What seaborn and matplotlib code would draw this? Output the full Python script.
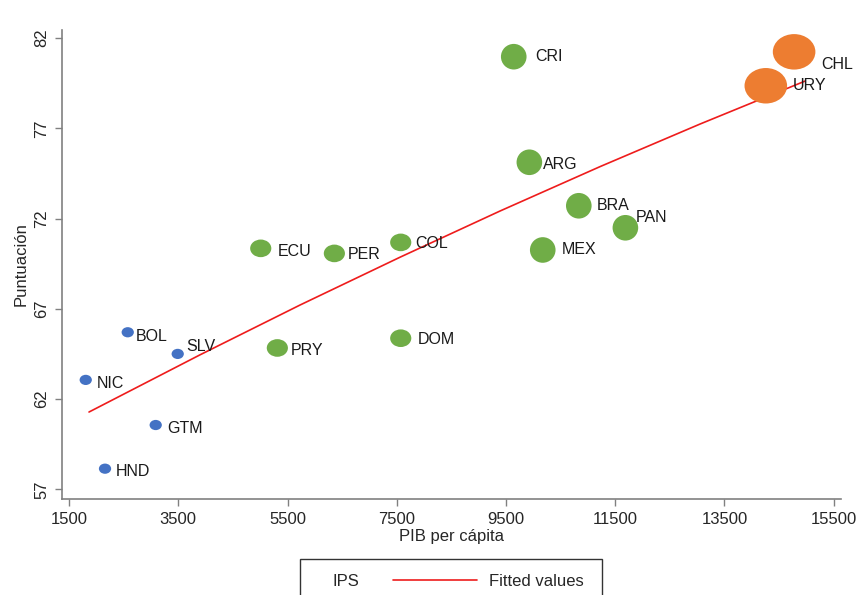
import numpy as np
import pandas as pd
import matplotlib
matplotlib.use("Agg")
import matplotlib.pyplot as plt
from matplotlib.path import Path
from matplotlib.transforms import Affine2D
from matplotlib.patches import Rectangle
from matplotlib.lines import Line2D
import seaborn as sns

# datos
paises = ['NIC', 'HND', 'BOL', 'GTM', 'SLV', 'ECU', 'PRY', 'PER', 'COL',
          'DOM', 'CRI', 'ARG', 'MEX', 'BRA', 'PAN', 'URY', 'CHL']
pib = [1806, 2159, 2575, 3087, 3490, 5010, 5314, 6358, 7573,
       7573, 9642, 9928, 10173, 10833, 11686, 14257, 14775]
ips = [63.06, 58.14, 65.70, 60.56, 64.50, 70.35, 64.83, 70.07, 70.68,
       65.37, 80.97, 75.12, 70.26, 72.71, 71.49, 79.36, 81.24]
grupo = ['bajo'] * 5 + ['medio'] * 10 + ['alto'] * 2
tamano = ['1'] * 5 + ['2'] * 5 + ['3'] * 5 + ['4'] * 2

# fitted values
ajuste_pib = [1866, 3899, 5730, 7561, 9392, 11223, 13054, 14976]
ajuste_ips = [61.28, 64.45, 67.21, 69.86, 72.42, 74.88, 77.24, 79.62]

df = pd.DataFrame({'pais': paises, 'pib': pib, 'ips': ips,
                   'grupo': grupo, 'tamano': tamano})
ajuste = pd.DataFrame({'pib': ajuste_pib, 'ips': ajuste_ips})

colores = {'bajo': '#4472C4', 'medio': '#70AD47', 'alto': '#ED7D31'}
tamanos = {'1': 78, '2': 232, '3': 340, '4': 940}

# marcador eliptico (un poco mas ancho que alto)
elipse = Path.unit_circle().transformed(Affine2D().scale(1.2, 1.0))
circulo = Path.unit_circle()
marcas = {'1': elipse, '2': elipse, '3': circulo, '4': elipse}

# posicion de las etiquetas (pixeles respecto al centro del marcador)
offsets = {'BOL': (8, -4), 'SLV': (9, 7), 'NIC': (11, -4), 'GTM': (12, -3),
           'HND': (11, -3), 'PRY': (13, -3), 'ECU': (17, -3), 'PER': (13, -1),
           'COL': (15, -1), 'DOM': (17, -1), 'CRI': (22, 0), 'ARG': (14, -2),
           'BRA': (18, 0), 'PAN': (10, 10), 'MEX': (19, 0), 'CHL': (27, -13),
           'URY': (27, 0)}

sns.set_theme(style='white')
plt.rcParams['font.family'] = ['Liberation Sans', 'DejaVu Sans']

fig = plt.figure(figsize=(8.58, 5.95), dpi=100)
ax = fig.add_axes([61.7 / 858, 1 - 499 / 595, 779 / 858, 469 / 595])

sns.lineplot(data=ajuste, x='pib', y='ips', color='#EE1C1C', lw=1.2,
             ax=ax, zorder=1)

sns.scatterplot(data=df, x='pib', y='ips', hue='grupo', palette=colores,
                size='tamano', sizes=tamanos, style='tamano', markers=marcas,
                linewidth=0, alpha=1, legend=False, ax=ax, zorder=2)

for p, x, y in zip(paises, pib, ips):
    dx, dy = offsets[p]
    ax.annotate(p, (x, y), xytext=(dx, dy), textcoords='offset pixels',
                ha='left', va='center', fontsize=11.5, color='#1a1a1a')

ax.set_xlim(1366, 15628)
ax.set_ylim(56.46, 82.45)
ax.set_xticks(np.arange(1500, 15501, 2000))
ax.set_yticks(np.arange(57, 83, 5))
ax.tick_params(axis='both', which='both', direction='out', length=5,
               width=1, color='#808080', labelsize=12, pad=4, bottom=True, left=True)
plt.setp(ax.get_yticklabels(), rotation=90, va='center')
ax.set_xlabel('PIB per cápita', fontsize=12, labelpad=2)
ax.set_ylabel('Puntuación', fontsize=12, labelpad=4)
sns.despine(ax=ax)
for s in ['left', 'bottom']:
    ax.spines[s].set_color('#808080')
    ax.spines[s].set_linewidth(1.2)

# leyenda al pie (recortada por el borde)
fig.patches.append(Rectangle((300 / 858, -0.05), 302 / 858, 36 / 595 + 0.05,
                             transform=fig.transFigure, fill=False,
                             edgecolor='#333333', lw=1))
yl = 1 - 582 / 595
fig.text(333 / 858, yl, 'IPS', fontsize=12, va='center')
fig.add_artist(Line2D([393 / 858, 477 / 858], [yl + 0.003, yl + 0.003],
                      color='#EE1C1C', lw=1.2, transform=fig.transFigure))
fig.text(489 / 858, yl, 'Fitted values', fontsize=12, va='center')

fig.savefig('out.png', dpi=100)
